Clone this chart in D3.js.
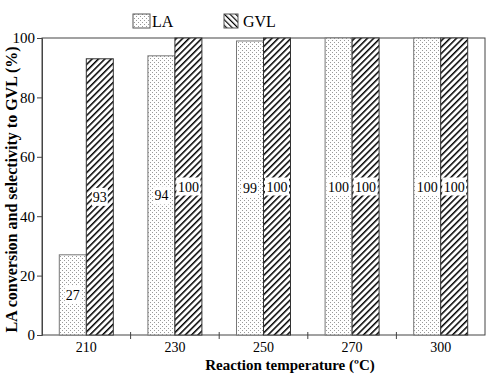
<!DOCTYPE html>
<html>
  <head>
    <style>
      body { margin: 0; background: #fff; }
      text { font-family: "Liberation Serif", "Times New Roman", serif; }
      .axis text { font-size: 15px; fill: #000; }
      .axis path, .axis line { stroke: #444; }
      .val { font-size: 14px; text-anchor: middle; }
    </style>
  </head>
  <body>
    <script src="https://d3js.org/d3.v7.min.js"></script>
    <script>
      const temps = ['210', '230', '250', '270', '300'];
      const laValues = [27, 94, 99, 100, 100];
      const gvlValues = [93, 100, 100, 100, 100];
      const yTicks = [0, 20, 40, 60, 80, 100];

      const width = 491, height = 375;
      const margin = { top: 38, right: 6, bottom: 40, left: 42 };
      const w = width - margin.left - margin.right;
      const h = height - margin.top - margin.bottom;

      const svg = d3.select('body').append('svg')
        .attr('width', width)
        .attr('height', height);

      const defs = svg.append('defs');
      const dots = defs.append('pattern')
        .attr('id', 'dots')
        .attr('patternUnits', 'userSpaceOnUse')
        .attr('width', 4).attr('height', 4);
      dots.append('rect').attr('width', 4).attr('height', 4).attr('fill', '#fff');
      dots.append('rect').attr('x', 0).attr('y', 0).attr('width', 1).attr('height', 1).attr('fill', '#999');
      dots.append('rect').attr('x', 2).attr('y', 2).attr('width', 1).attr('height', 1).attr('fill', '#999');

      const hatch = defs.append('pattern')
        .attr('id', 'hatch')
        .attr('patternUnits', 'userSpaceOnUse')
        .attr('width', 4.5).attr('height', 4.5)
        .attr('patternTransform', 'rotate(45)');
      hatch.append('rect').attr('width', 4.5).attr('height', 4.5).attr('fill', '#fff');
      hatch.append('line').attr('x1', 0).attr('y1', 0).attr('x2', 0).attr('y2', 4.5)
        .attr('stroke', '#000').attr('stroke-width', 3);

      const hatchLegend = defs.append('pattern')
        .attr('id', 'hatchL')
        .attr('patternUnits', 'userSpaceOnUse')
        .attr('width', 4).attr('height', 4)
        .attr('patternTransform', 'rotate(-45)');
      hatchLegend.append('rect').attr('width', 4).attr('height', 4).attr('fill', '#fff');
      hatchLegend.append('line').attr('x1', 0).attr('y1', 0).attr('x2', 0).attr('y2', 4)
        .attr('stroke', '#000').attr('stroke-width', 2.4);

      const g = svg.append('g')
        .attr('transform', `translate(${margin.left},${margin.top})`);

      const x = d3.scaleBand().domain(temps).range([0, w]);
      const y = d3.scaleLinear().domain([0, 100]).range([h, 0]);
      const barW = 27;

      // frame
      g.append('rect')
        .attr('width', w).attr('height', h)
        .attr('fill', 'none').attr('stroke', '#444');

      const rows = temps.map((t, i) => ({ t, la: laValues[i], gvl: gvlValues[i] }));

      g.selectAll('.la')
        .data(rows)
        .join('rect')
        .attr('class', 'la')
        .attr('x', d => x(d.t) + x.bandwidth() / 2 - barW)
        .attr('y', d => y(d.la))
        .attr('width', barW)
        .attr('height', d => h - y(d.la))
        .attr('fill', 'url(#dots)')
        .attr('stroke', '#777');

      g.selectAll('.gvl')
        .data(rows)
        .join('rect')
        .attr('class', 'gvl')
        .attr('x', d => x(d.t) + x.bandwidth() / 2)
        .attr('y', d => y(d.gvl))
        .attr('width', barW)
        .attr('height', d => h - y(d.gvl))
        .attr('fill', 'url(#hatch)')
        .attr('stroke', '#333');

      // value labels
      function addLabels(key, offset) {
        const lab = g.selectAll('.lab-' + key)
          .data(rows)
          .join('g')
          .attr('class', 'lab-' + key)
          .attr('transform', d => `translate(${x(d.t) + x.bandwidth() / 2 + offset},${y(d[key] / 2)})`);
        lab.append('rect')
          .attr('x', d => d[key] >= 100 ? -12 : -8)
          .attr('y', -9)
          .attr('width', d => d[key] >= 100 ? 24 : 16)
          .attr('height', 18)
          .attr('fill', '#fff');
        lab.append('text')
          .attr('class', 'val')
          .attr('y', 5)
          .text(d => d[key]);
      }
      addLabels('la', -barW / 2);
      addLabels('gvl', barW / 2);

      // axes
      g.append('g')
        .attr('class', 'axis')
        .call(d3.axisLeft(y).tickValues(yTicks).tickSize(5).tickPadding(2));

      const xAxis = g.append('g')
        .attr('class', 'axis x')
        .attr('transform', `translate(0,${h})`)
        .call(d3.axisBottom(x).tickSize(0).tickPadding(7));
      xAxis.select('.domain').remove();
      xAxis.selectAll('text').style('font-size', '14px');

      // category boundary ticks
      g.selectAll('.sep')
        .data(temps.slice(1))
        .join('line')
        .attr('class', 'sep')
        .attr('x1', d => x(d)).attr('x2', d => x(d))
        .attr('y1', h - 3).attr('y2', h + 4)
        .attr('stroke', '#444');

      svg.append('text')
        .attr('x', 290).attr('y', 370)
        .attr('text-anchor', 'middle')
        .attr('font-size', 15).attr('font-weight', 'bold')
        .text('Reaction temperature (\u00BAC)');

      svg.append('text')
        .attr('transform', `translate(17,${margin.top + h / 2 + 3}) rotate(-90)`)
        .attr('text-anchor', 'middle')
        .attr('font-size', 16).attr('font-weight', 'bold')
        .text('LA conversion and selectivity to GVL (%)');

      // legend
      const legend = svg.append('g');
      legend.append('rect').attr('x', 133).attr('y', 14).attr('width', 17).attr('height', 14)
        .attr('fill', 'url(#dots)').attr('stroke', '#555');
      legend.append('text').attr('x', 152).attr('y', 27).attr('font-size', 16).text('LA');
      legend.append('rect').attr('x', 224).attr('y', 14).attr('width', 14).attr('height', 14)
        .attr('fill', 'url(#hatchL)').attr('stroke', '#555');
      legend.append('text').attr('x', 243).attr('y', 27).attr('font-size', 16).text('GVL');
    </script>
  </body>
</html>
